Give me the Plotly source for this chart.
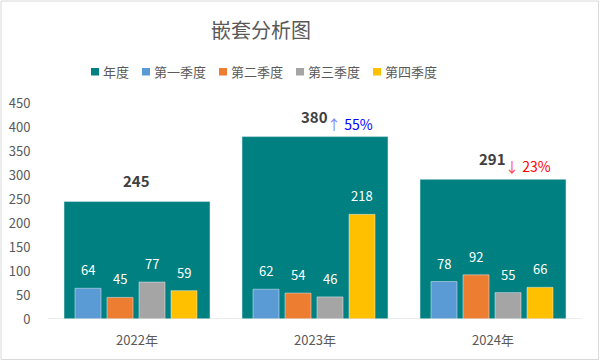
import plotly.graph_objects as go

years = ["2022年", "2023年", "2024年"]
annual = [245, 380, 291]
q1 = [64, 62, 78]
q2 = [45, 54, 92]
q3 = [77, 46, 55]
q4 = [59, 218, 66]
series_names = ["年度", "第一季度", "第二季度", "第三季度", "第四季度"]
colors = ["#008080", "#5B9BD5", "#ED7D31", "#A5A5A5", "#FFC000"]
yticks = [0, 50, 100, 150, 200, 250, 300, 350, 400, 450]

W, H = 600, 361
ML, MR, MT, MB = 48, 18, 103, 42
PW = W - ML - MR
PH = H - MT - MB
FONT = "Microsoft YaHei, Noto Sans CJK SC, sans-serif"
GRAY = "#595959"

def px_x(x):
    return (x - ML) / PW

def px_y(y):
    return (H - MB - y) / PH

xs = list(range(len(years)))
fig = go.Figure()

fig.add_trace(go.Bar(x=xs, y=annual, name=series_names[0], marker_color=colors[0],
                     width=0.82, offset=-0.41, showlegend=False))

qwidth = 26 / 178
qoffsets = [-62 / 178, -30 / 178, 2 / 178, 34 / 178]
quarters = [q1, q2, q3, q4]
for k, (vals, off) in enumerate(zip(quarters, qoffsets)):
    fig.add_trace(go.Bar(x=xs, y=vals, name=series_names[k + 1], marker_color=colors[k + 1],
                         width=qwidth, offset=off, showlegend=False))

annotations = []
# quarter labels
for vals, off in zip(quarters, qoffsets):
    for i, v in enumerate(vals):
        annotations.append(dict(x=i + off + qwidth / 2, y=v, xref="x", yref="y", text=str(v),
                                showarrow=False, yanchor="bottom", yshift=7,
                                font=dict(family=FONT, size=13, color="white")))
# annual labels
for i, v in enumerate(annual):
    annotations.append(dict(x=i, y=v, xref="x", yref="y", text="<b>%d</b>" % v,
                            showarrow=False, yanchor="bottom", yshift=8, xshift=-1,
                            font=dict(family=FONT, size=15, color="#404040")))
# growth labels
for i in range(1, len(annual)):
    ch = annual[i] / annual[i - 1] - 1
    if ch >= 0:
        txt = '<span style="color:#7F7FFF">↑</span> %d%%' % round(abs(ch) * 100)
        col = "#0000FF"
    else:
        txt = '<span style="color:#FF4B4B">↓</span> %d%%' % round(abs(ch) * 100)
        col = "#FF0000"
    annotations.append(dict(x=i, y=annual[i], xref="x", yref="y", text=txt,
                            showarrow=False, xanchor="left", yanchor="bottom", yshift=1, xshift=10,
                            font=dict(family=FONT, size=14, color=col)))

# title
annotations.append(dict(x=px_x(261), y=px_y(30), xref="paper", yref="paper", text="嵌套分析图",
                        showarrow=False, xanchor="center", yanchor="middle",
                        font=dict(family=FONT, size=20, color=GRAY)))

# custom legend
legend_marker_x = [91, 142, 219, 296, 373]
shapes = []
for name, col, mx in zip(series_names, colors, legend_marker_x):
    shapes.append(dict(type="rect", xref="paper", yref="paper",
                       x0=px_x(mx), x1=px_x(mx + 8), y0=px_y(75.5), y1=px_y(68),
                       fillcolor=col, line=dict(width=0)))
    annotations.append(dict(x=px_x(mx + 10), y=px_y(71.5), xref="paper", yref="paper", text=name,
                            showarrow=False, xanchor="left", yanchor="middle",
                            font=dict(family=FONT, size=13, color=GRAY)))

# axis baseline
shapes.append(dict(type="line", xref="paper", yref="y", x0=0, x1=1, y0=0, y1=0,
                   line=dict(color="#D9D9D9", width=1)))
# chart border
shapes.append(dict(type="rect", xref="paper", yref="paper",
                   x0=px_x(1), x1=px_x(598.5), y0=px_y(359.5), y1=px_y(1),
                   line=dict(color="#D9D9D9", width=1), fillcolor="rgba(0,0,0,0)"))

fig.update_layout(
    width=W, height=H,
    margin=dict(l=ML, r=MR, t=MT, b=MB, pad=0, autoexpand=False),
    paper_bgcolor="white", plot_bgcolor="white",
    barmode="overlay",
    showlegend=False,
    annotations=annotations,
    shapes=shapes,
    font=dict(family=FONT, size=13, color=GRAY),
    xaxis=dict(range=[-0.5, 2.5], tickvals=xs, ticktext=years, showgrid=False, zeroline=False,
               showline=False, ticks="outside", ticklen=9, tickcolor="rgba(0,0,0,0)",
               automargin=False,
               tickfont=dict(family=FONT, size=13, color=GRAY), fixedrange=True),
    yaxis=dict(range=[0, 450], tickvals=yticks, showgrid=False, zeroline=False, showline=False,
               ticks="outside", ticklen=14, tickcolor="rgba(0,0,0,0)",
               automargin=False,
               tickfont=dict(family=FONT, size=13, color=GRAY), fixedrange=True),
)

fig.write_html("out.html", config={"displayModeBar": False},
               post_script="document.body.style.margin='0';document.body.style.padding='0';")
